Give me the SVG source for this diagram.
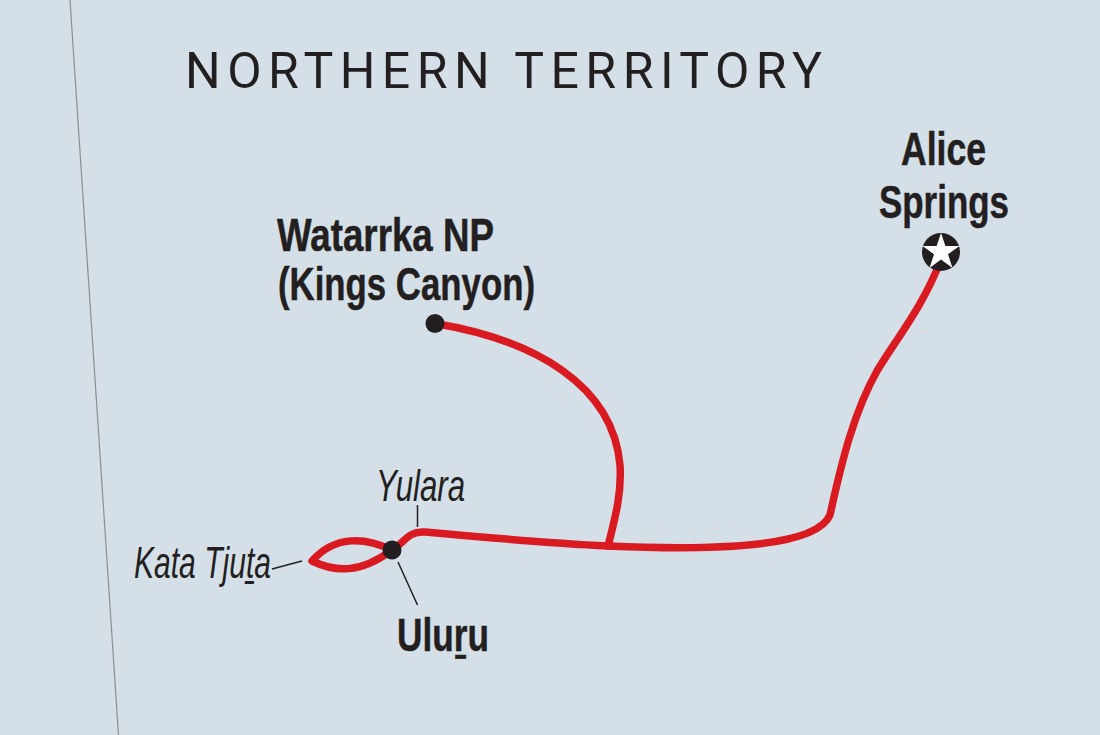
<svg xmlns="http://www.w3.org/2000/svg" width="1100" height="735" viewBox="0 0 1100 735">
<style>
.b{font-family:"Liberation Sans",Arial,sans-serif;font-weight:700;fill:#231f20;stroke:#231f20;stroke-width:.5;font-size:46px}
.i{font-family:"Liberation Sans",Arial,sans-serif;font-style:italic;fill:#231f20;font-size:45px}
.t{font-family:Roboto,"Liberation Sans",Arial,sans-serif;font-weight:400;fill:#231f20;font-size:50px}
.r{fill:none;stroke:#da1a21;stroke-width:7.500;stroke-linecap:round;stroke-linejoin:round}
.l{fill:none;stroke:#231f20;stroke-width:1.5}
.d{fill:#231f20}
</style>
<rect width="1100" height="735" fill="#d4dfe8"/>
<path id="border" d="M70 0L118.500 735" fill="none" stroke="#8c8f91" stroke-width="1.200"/>
<g id="connectors">
<path class="r" d="M392 550C405 542 408 531 425 532C480 537 550 543 608 546C700 550 815 550 830 515C842 460 854 412 877 371C897 338 922 308 940 262"/>
<path class="r" d="M435 323.500C535 340 613 385 620 465C622 495 614 522 608 546"/>
<path class="r" d="M392 550C365 537 335 535 312 561C335 572 360 574 392 550"/>
<path class="l" d="M417.500 505V527M272 569L302 561M398 562L417.500 605"/>
</g>
<text id="title" class="t" x="185" y="88" textLength="637" lengthAdjust="spacing">NORTHERN TERRITORY</text>
<g id="watarrka"><circle class="d" cx="435" cy="323.500" r="9.500"/>
<text class="b" x="277" y="251" textLength="217" lengthAdjust="spacingAndGlyphs">Watarrka NP</text>
<text class="b" x="278" y="300" textLength="257" lengthAdjust="spacingAndGlyphs">(Kings Canyon)</text></g>
<g id="alice"><circle class="d" cx="941" cy="252" r="19"/>
<polygon points="941,233 945.400,246 959.500,246 948,254.300 952.500,268 941,259.400 929.500,268 934,254.300 922.500,246 936.600,246" fill="#fff"/>
<text class="b" x="901" y="165" textLength="85" lengthAdjust="spacingAndGlyphs">Alice</text>
<text class="b" x="879" y="218" textLength="130" lengthAdjust="spacingAndGlyphs">Springs</text></g>
<g id="uluru"><circle class="d" cx="392" cy="550" r="9.500"/>
<text class="b" x="397" y="651" textLength="92" lengthAdjust="spacingAndGlyphs">Uluṟu</text></g>
<g id="yulara"><text class="i" x="376" y="501" textLength="89" lengthAdjust="spacingAndGlyphs">Yulara</text></g>
<g id="kata"><text class="i" x="134" y="578" textLength="137" lengthAdjust="spacingAndGlyphs">Kata Tjuṯa</text></g>
</svg>
